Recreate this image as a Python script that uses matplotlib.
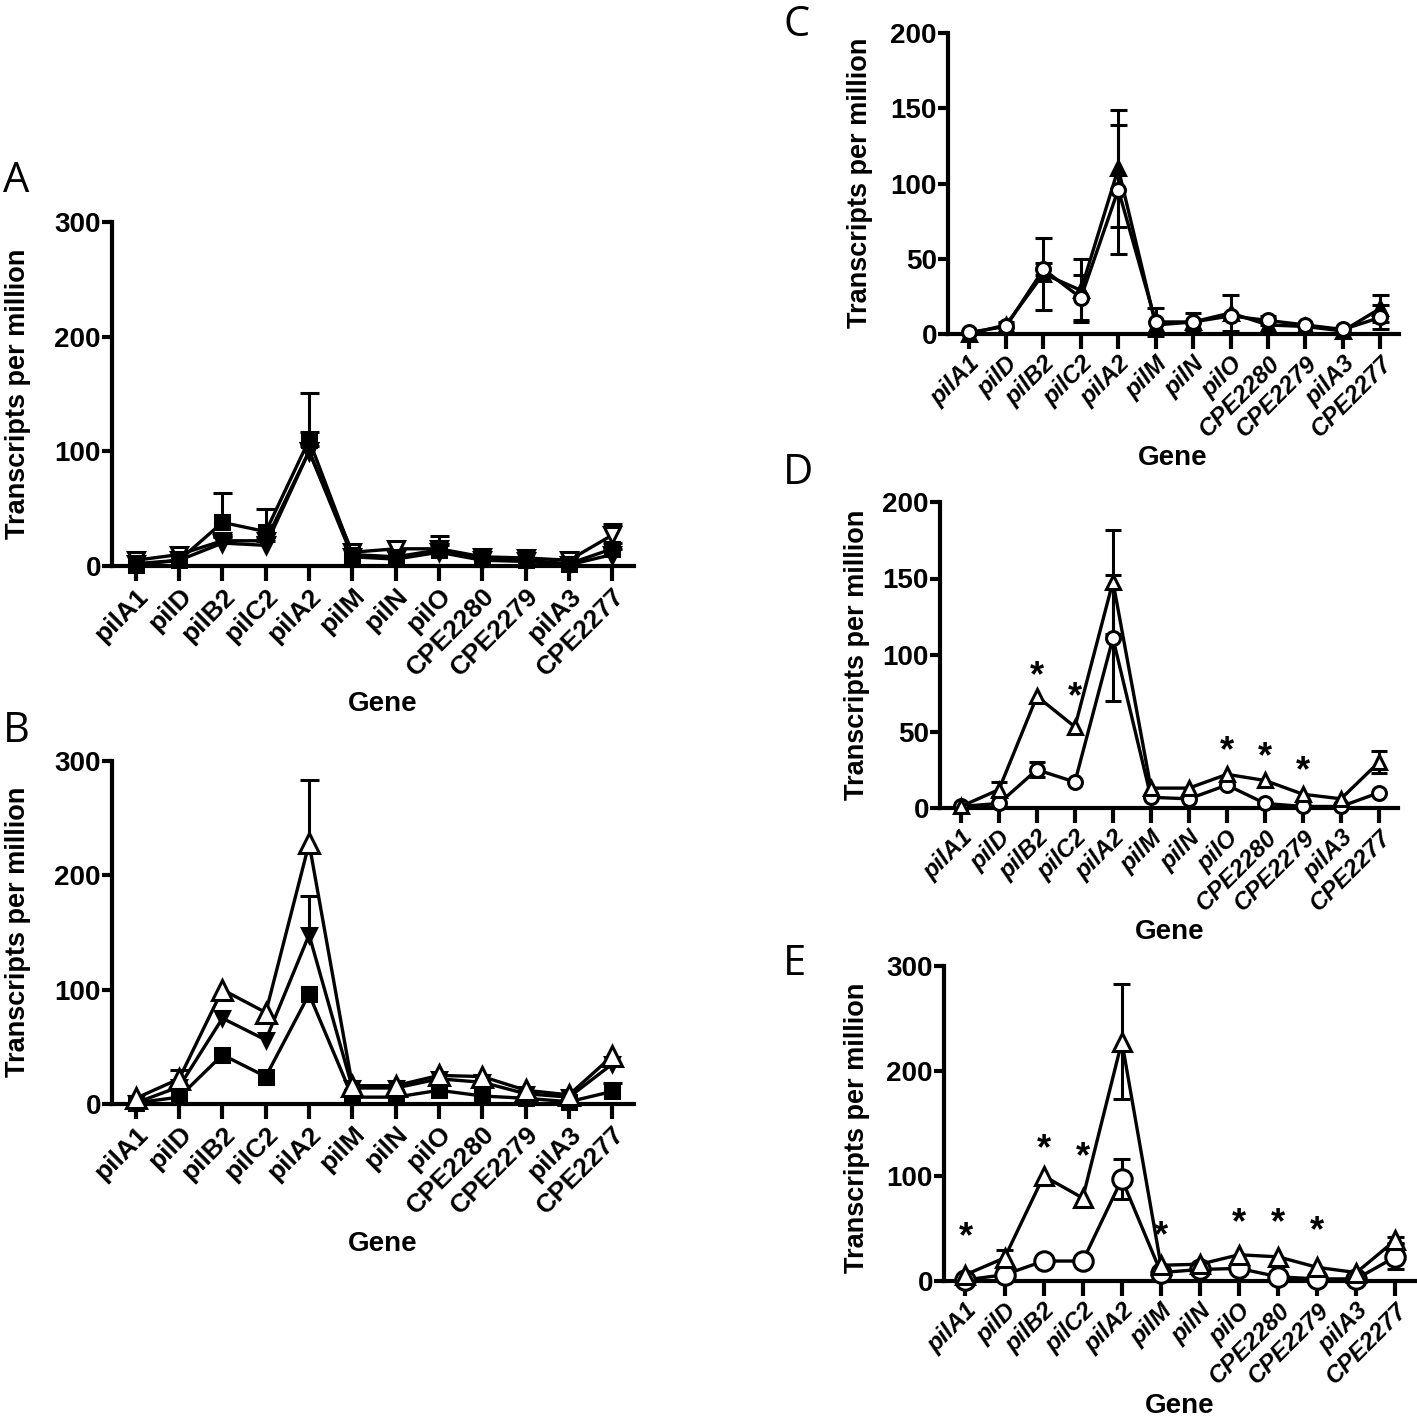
import numpy as np
import matplotlib
matplotlib.use('Agg')
import matplotlib.pyplot as plt

plt.rcParams['font.family'] = ['Liberation Sans', 'DejaVu Sans']
plt.rcParams['font.weight'] = 'bold'

W, H = 1417, 1419

genes = ['pilA1', 'pilD', 'pilB2', 'pilC2', 'pilA2', 'pilM', 'pilN', 'pilO',
         'CPE2280', 'CPE2279', 'pilA3', 'CPE2277']

# panel A (error bars drawn upward only)
A_sq = [1, 5, 38, 30, 110, 10, 8, 14, 6, 5, 2, 15]
A_sq_err = [0, 0, 26, 20, 41, 0, 0, 0, 0, 0, 0, 5]
A_dn = [2, 5, 20, 18, 100, 8, 6, 12, 5, 4, 1, 10]
A_dn_err = [0, 0, 5, 4, 17, 0, 0, 14, 0, 0, 0, 5]
A_odn = [5, 10, 22, 22, 100, 12, 15, 15, 8, 7, 5, 27]
A_odn_err = [0, 0, 4, 3, 5, 0, 0, 3, 0, 0, 0, 10]

# panel B (error bars upward only)
B_sq = [1, 6, 43, 24, 96, 6, 6, 12, 7, 5, 2, 11]
B_sq_err = [0, 0, 0, 0, 0, 0, 0, 0, 0, 0, 0, 7]
B_dn = [1, 15, 75, 56, 148, 14, 14, 22, 19, 9, 6, 35]
B_dn_err = [0, 0, 0, 0, 34, 0, 0, 0, 0, 0, 0, 0]
B_tri = [5, 22, 100, 80, 228, 16, 16, 25, 24, 12, 8, 42]
B_tri_err = [0, 8, 0, 0, 55, 0, 0, 0, 0, 0, 0, 0]

# panel C (symmetric error bars)
C_tri = [0, 6, 40, 29, 110, 6, 8, 14, 6, 5, 2, 17]
C_tri_err = [0, 2, 24, 21, 39, 0, 0, 12, 0, 0, 0, 9]
C_circ = [1, 5, 43, 24, 96, 8, 8, 12, 9, 6, 3, 11]
C_circ_err = [0, 0, 4, 15, 43, 9, 6, 0, 3, 0, 0, 8]

# panel D
D_tri = [1, 12, 73, 53, 148, 13, 13, 22, 18, 9, 6, 30]
D_tri_err = [0, 5, 0, 0, 34, 0, 0, 0, 0, 0, 0, 7]
D_circ = [1, 3, 25, 17, 111, 7, 6, 15, 3, 1, 1, 10]
D_circ_err = [0, 0, 5, 0, 41, 0, 0, 0, 0, 0, 0, 0]
D_star_idx = [2, 3, 7, 8, 9]
D_star_y = [86, 72, 37, 33, 24]

# panel E
E_tri = [6, 22, 100, 79, 228, 15, 16, 25, 23, 13, 8, 39]
E_tri_err = [0, 8, 0, 0, 55, 0, 0, 0, 0, 0, 0, 3]
E_circ = [1, 6, 19, 19, 97, 8, 11, 12, 4, 2, 2, 23]
E_circ_err = [0, 6, 0, 0, 19, 0, 0, 0, 0, 0, 0, 12]
E_star_idx = [0, 2, 3, 5, 7, 8, 9]
E_star_y = [41, 125, 117, 42, 55, 55, 47]

x = np.arange(len(genes))
fig = plt.figure(figsize=(W / 100, H / 100), dpi=100)


def px_axes(left, right, top, bottom):
    return fig.add_axes([left / W, 1 - bottom / H, (right - left) / W, (bottom - top) / H])


def style(ax, ymax, ystep, italic):
    ax.set_xlim(-0.55, 11.5)
    ax.set_ylim(0, ymax)
    ax.set_yticks(np.arange(0, ymax + 1, ystep))
    for s in ['top', 'right']:
        ax.spines[s].set_visible(False)
    for s in ['left', 'bottom']:
        ax.spines[s].set_linewidth(3)
    ax.tick_params(axis='y', length=7, width=3, labelsize=20, pad=1)
    ax.tick_params(axis='x', length=11, width=3, pad=2)
    ax.set_xticks(x)
    ax.set_xticklabels(genes, rotation=45, ha='right', rotation_mode='anchor',
                       fontsize=17.5 if italic else 19, fontweight='bold',
                       fontstyle='italic' if italic else 'normal')
    for t in ax.get_yticklabels():
        t.set_fontweight('bold')


def series(ax, y, err, marker, filled, ms, up_only):
    y = np.array(y, dtype=float)
    err = np.array(err, dtype=float)
    has = err > 0
    lo = y if up_only else y - err
    hi = y + err
    cw = 0.22
    ax.vlines(x[has], lo[has], hi[has], color='black', lw=2.2, clip_on=False, zorder=2)
    ax.hlines(hi[has], x[has] - cw, x[has] + cw, color='black', lw=2.2, clip_on=False, zorder=2)
    if not up_only:
        ax.hlines(lo[has], x[has] - cw, x[has] + cw, color='black', lw=2.2, clip_on=False, zorder=2)
    ax.plot(x, y, color='black', lw=2.4, marker=marker, ms=ms, mew=2.2,
            mfc='black' if filled else 'white', mec='black', clip_on=False, zorder=3)


def stars(ax, idx, ys):
    for i, yv in zip(idx, ys):
        ax.text(x[i], yv, '*', ha='center', va='center', fontsize=26, fontweight='bold')


def labels(ax_letter, lx, ly, gx, gy, yx, yy):
    fig.text(lx / W, 1 - ly / H, ax_letter, fontsize=30, fontweight='normal',
             family=['Open Sans', 'DejaVu Sans'], ha='left', va='baseline')
    fig.text(gx / W, 1 - gy / H, 'Gene', fontsize=20, fontweight='bold', ha='center', va='center')
    fig.text(yx / W, 1 - yy / H, 'Transcripts per million', fontsize=19.5, fontweight='bold',
             rotation=90, ha='center', va='center')


# A
axA = px_axes(112, 634, 222, 566)
style(axA, 300, 100, False)
series(axA, A_odn, A_odn_err, 'v', False, 11, True)
series(axA, A_dn, A_dn_err, 'v', True, 11, True)
series(axA, A_sq, A_sq_err, 's', True, 10, True)
labels('A', 3, 192, 383, 704, 18, 394)

# B
axB = px_axes(112, 634, 761, 1104)
style(axB, 300, 100, False)
series(axB, B_sq, B_sq_err, 's', True, 10, True)
series(axB, B_dn, B_dn_err, 'v', True, 10, True)
series(axB, B_tri, B_tri_err, '^', False, 14, True)
labels('B', 3, 742, 383, 1244, 18, 932)

# C
axC = px_axes(948, 1399, 33, 334)
style(axC, 200, 50, True)
series(axC, C_tri, C_tri_err, '^', True, 10, False)
series(axC, C_circ, C_circ_err, 'o', False, 10, False)
labels('C', 783, 36, 1173, 458, 860, 183)

# D
axD = px_axes(940, 1398, 502, 808)
style(axD, 200, 50, True)
series(axD, D_circ, D_circ_err, 'o', False, 10, False)
series(axD, D_tri, D_tri_err, '^', False, 10, False)
stars(axD, D_star_idx, D_star_y)
labels('D', 783, 484, 1170, 932, 857, 655)

# E
axE = px_axes(944, 1415, 966, 1281)
style(axE, 300, 100, True)
series(axE, E_circ, E_circ_err, 'o', False, 14, False)
series(axE, E_tri, E_tri_err, '^', False, 13, False)
stars(axE, E_star_idx, E_star_y)
labels('E', 783, 975, 1180, 1406, 857, 1128)

fig.savefig('out.png', dpi=100)
